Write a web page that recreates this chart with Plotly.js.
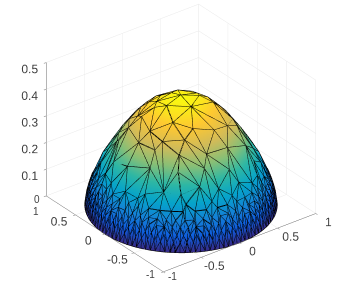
<!DOCTYPE html>
<html><head><meta charset="utf-8">
<script src="https://cdn.plot.ly/plotly-3.0.1.min.js"></script>
<style>html,body{margin:0;padding:0;background:#fff}#c{width:354px;height:299px}</style>
</head><body><div id="c"></div>
<script>
// Free nodes: radius, azimuth (deg), height
const innerR=[0.33,0.385,0.444,0.48,0.555,0.57,0.445,0.495,0.415,0.19,0.18,0.03,0.28,0.22,0.18,0.42,0.70,0.66,0.70,0.76,0.77,0.74,0.765,0.775,0.82,0.666,0.56,0.68,0.58,
 0.77,0.815,0.745,0.795,0.664,0.656,0.547,0.59,0.465,0.546,
 0.45,0.45,0.45,0.65,0.65,0.65,0.65,0.30,
 0.25,0.25,0.25,0.25,0.35,0.35,0.35,0.35,0.35,0.45,0.45,0.45,0.45,0.45,0.45,
 0.55,0.55,0.55,0.55,0.55,0.55,0.65,0.65,0.65,0.75,0.75,0.75,0.75,0.75,0.75,0.75,
 0.83,0.83,0.83,0.83,0.83,0.83,0.83,0.83,0.83,0.83,0.83,0.83,0.83,0.83,0.83,0.83];
const innerAz=[218,251,186,209,230.5,260,283,309.5,154,181,268,60,155,351.5,86,347,180,203.5,278,219,232.5,247.5,263,283,188,148,181,313.5,320.5,
 311.5,159,162.5,204.6,230,254,203,287,237,149,
 20,70,120,0,45,90,135,30,
 10,60,110,140,340,0,60,100,125,345,5,45,95,105,145,
 335,355,20,75,110,130,340,120,150,325,345,10,60,110,125,140,
 130,145,162,172,200,236,255,272,295,305,320,335,348,20,60,100];
const innerZ=[0.365,0.35,0.33,0.315,0.285,0.28,0.33,0.315,0.345,0.392,0.393,0.405,0.375,0.39,0.392,0.345,0.22,0.24,0.22,0.18,0.175,0.195,0.178,0.172,0.155,0.25,0.295,0.24,0.30,
 0.19,0.16,0.205,0.165,0.24,0.245,0.29,0.275,0.325,0.30,
 0.335,0.335,0.335,0.255,0.255,0.255,0.255,0.375,
 0.385,0.385,0.385,0.385,0.365,0.365,0.365,0.365,0.365,0.335,0.335,0.335,0.335,0.335,0.335,
 0.30,0.30,0.30,0.30,0.30,0.30,0.255,0.255,0.255,0.205,0.205,0.205,0.205,0.205,0.205,0.205,
 0.165,0.165,0.165,0.155,0.15,0.15,0.15,0.15,0.15,0.155,0.165,0.165,0.165,0.165,0.165,0.165];
// Ring nodes near the rim
const ringR=[0.87,0.91,0.94,0.965,0.985,1.0];
const ringZ=[0.13,0.105,0.085,0.06,0.035,0.0];
const ring87=[130,138,146,154,162,170,178,186,194,202,210,218,226,234,242,250,258,266,274,282,290,298,306,314,322,330,338,346,10,40,70,100];
const ring91=[133,139,145,151,157,163,169,175,181,187,193,199,205,211,217,223,229,235,241,247,253,259,265,271,277,283,289,295,301,307,313,319,325,331,337,343];
const ring94=[132,137,142,147,152,157,162,167,172,177,182,187,192,197,202,207,212,217,222,227,232,237,242,247,252,257,262,267,272,277,282,287,292,297,302,307,312,317,322,327,332,337,342,347];
const ring965=[130,134,138,142,146,150,154,158,162,166,170,174,178,182,186,190,194,198,202,206,210,214,218,222,226,230,234,238,242,246,250,254,258,262,266,270,274,278,282,286,290,294,298,302,306,310,314,318,322,326,330,334,338,342,346,0,30,60,90,115];
const ring985=[132,136,140,144,148,152,156,160,164,168,172,176,180,184,188,192,196,200,204,208,212,216,220,224,228,232,236,240,244,248,252,256,260,264,268,272,276,280,284,288,292,296,300,304,308,312,316,320,324,328,332,336,340,344];
const ring100=[130,133,136,139,142,145,148,151,154,157,160,163,166,169,172,175,178,181,184,187,190,193,196,199,202,205,208,211,214,217,220,223,226,229,232,235,238,241,244,247,250,253,256,259,262,265,268,271,274,277,280,283,286,289,292,295,298,301,304,307,310,313,316,319,322,325,328,331,334,337,340,343,346,354,2,10,20,30,40,50,60,70,80,90,100,110,120];
const ringAz=[ring87,ring91,ring94,ring965,ring985,ring100];
// Axes
const xyTicks=[-1,-0.5,0,0.5,1];
const xLabels=[' ','-0.5','0','0.5','1'];
const yLabels=[' ','-0.5','0','0.5',' '];
const zTicks=[0,0.1,0.2,0.3,0.4,0.5];
const zLabels=[' ','0.1','0.2','0.3','0.4','0.5'];
const parula=['#352a87','#0f5cdd','#1481d6','#06a4ca','#2eb7a4','#87bf77','#d1bb59','#fec832','#f9fb0e'];

const X=[],Y=[],Z=[];
function add(r,az,z){const a=az*Math.PI/180;X.push(r*Math.cos(a));Y.push(r*Math.sin(a));Z.push(z);}
innerR.forEach((r,n)=>add(r,innerAz[n],innerZ[n]));
ringAz.forEach((list,n)=>list.forEach(az=>add(ringR[n],az,ringZ[n])));

// Connect the nodes (Bowyer-Watson on the x-y plane)
function triangulate(px,py){
  const n=px.length,P=px.map((v,q)=>[v,py[q]]);
  P.push([-30,-30],[30,-30],[0,30]);
  let T=[[n,n+1,n+2]];
  function inC(t,p){
    const [a,b,c]=t.map(q=>P[q]);
    const ax=a[0]-p[0],ay=a[1]-p[1],bx=b[0]-p[0],by=b[1]-p[1],cx=c[0]-p[0],cy=c[1]-p[1];
    const d=(ax*ax+ay*ay)*(bx*cy-cx*by)-(bx*bx+by*by)*(ax*cy-cx*ay)+(cx*cx+cy*cy)*(ax*by-bx*ay);
    const o=(b[0]-a[0])*(c[1]-a[1])-(b[1]-a[1])*(c[0]-a[0]);
    return o>0?d>0:d<0;
  }
  for(let q=0;q<n;q++){
    const bad=[],good=[];
    T.forEach(t=>(inC(t,P[q])?bad:good).push(t));
    const cnt={};
    bad.forEach(t=>[[t[0],t[1]],[t[1],t[2]],[t[2],t[0]]].forEach(e=>{
      const k=Math.min(e[0],e[1])+'_'+Math.max(e[0],e[1]);
      cnt[k]=cnt[k]||{c:0,e};cnt[k].c++;}));
    T=good;
    Object.values(cnt).forEach(v=>{if(v.c===1)T.push([v.e[0],v.e[1],q]);});
  }
  return T.filter(t=>t.every(q=>q<n));
}
const tris=triangulate(X,Y);
const I=tris.map(t=>t[0]),J=tris.map(t=>t[1]),K=tris.map(t=>t[2]);
const seen={},LX=[],LY=[],LZ=[];
tris.forEach(t=>[[t[0],t[1]],[t[1],t[2]],[t[2],t[0]]].forEach(e=>{
  const k=Math.min(e[0],e[1])+'_'+Math.max(e[0],e[1]);
  if(seen[k])return;seen[k]=1;
  LX.push(X[e[0]],X[e[1]],null);LY.push(Y[e[0]],Y[e[1]],null);LZ.push(Z[e[0]],Z[e[1]],null);
}));

const cs=parula.map((c,n)=>[n/(parula.length-1),c]);
const tickFont={family:'Liberation Sans, Arial, sans-serif',size:12,color:'#404040'};
const noteFont={family:'Liberation Sans, Arial, sans-serif',size:10,color:'#404040'};
const axis=(vals,text,range)=>({range,autorange:false,tickmode:'array',tickvals:vals,ticktext:text,tickangle:0,
  title:{text:''},showbackground:false,showgrid:true,gridcolor:'#e8e8e8',gridwidth:1,zeroline:false,
  showline:true,linecolor:'#6a6a6a',linewidth:1,ticks:'inside',ticklen:3,tickcolor:'#6a6a6a',
  tickfont:tickFont,showspikes:false});
const note=(x,y,z,text,xshift,yshift)=>({x,y,z,text,xshift,yshift,showarrow:false,font:noteFont});
Plotly.newPlot('c',[
 {type:'mesh3d',x:X,y:Y,z:Z,i:I,j:J,k:K,intensity:Z,colorscale:cs,cmin:0,cmax:0.405,showscale:false,
  flatshading:false,hoverinfo:'skip',lighting:{ambient:1,diffuse:0,specular:0,roughness:1,fresnel:0}},
 {type:'scatter3d',mode:'lines',x:LX,y:LY,z:LZ,line:{color:'#000000',width:2},hoverinfo:'skip',showlegend:false}
],{
 width:354,height:299,margin:{l:0,r:0,t:0,b:0},paper_bgcolor:'#fff',showlegend:false,
 scene:{domain:{x:[0.024,1],y:[0.077,1]},
  xaxis:axis(xyTicks,xLabels,[-1,1]),yaxis:axis(xyTicks,yLabels,[-1,1]),zaxis:axis(zTicks,zLabels,[0,0.5]),
  aspectmode:'manual',aspectratio:{x:1.393,y:1.393,z:1.115},
  annotations:[note(-1,1,0,'0',-10,-4),note(-1,1,0,'1',-11,-16),note(-1,-1,0,'-1',9,-5),note(-1,-1,0,'-1',-13,-3)],
  camera:{projection:{type:'orthographic'},center:{x:0,y:0,z:0},up:{x:0,y:0,z:1},
   eye:{x:-1.06,y:-1.38,z:1.0}}}
},{displayModeBar:false});
</script></body></html>
